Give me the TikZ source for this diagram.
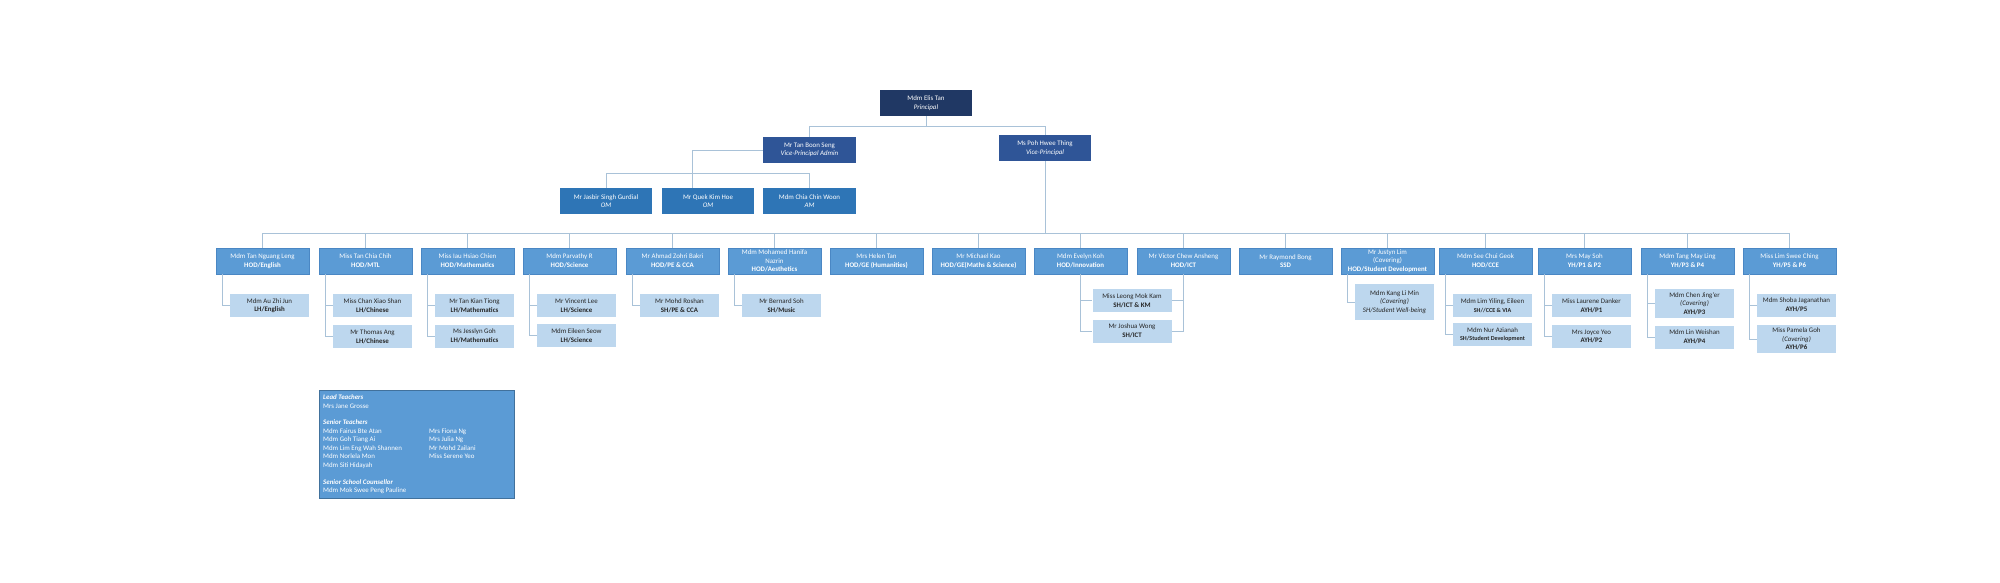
\documentclass[tikz,border=0pt]{standalone}
\usepackage{fontspec}
\setmainfont{Carlito}
\usetikzlibrary{calc}
\definecolor{navy}{HTML}{203864}
\definecolor{vpblue}{HTML}{2F5597}
\definecolor{omblue}{HTML}{2E75B6}
\definecolor{hodblue}{HTML}{5B9BD5}
\definecolor{hodedge}{HTML}{4A87C4}
\definecolor{subblue}{HTML}{BDD7EE}
\definecolor{subtext}{HTML}{262626}
\definecolor{linecol}{HTML}{A9C2D8}
\definecolor{legedge}{HTML}{41719C}
\newcommand\orgfont{\fontsize{6.9}{8.6}\selectfont}
\newcommand\orgsmall{\fontsize{6.1}{8.6}\selectfont}
\begin{document}
\begin{tikzpicture}[x=1pt,y=-1pt,
  box/.style={rectangle, inner sep=0pt, align=center, font=\orgfont, text=white},
  topbox/.style={box, minimum width=92pt, minimum height=26pt},
  hodbox/.style={box, fill=hodblue, draw=hodedge, line width=0.5pt, minimum width=93pt, minimum height=26pt},
  subbox/.style={box, fill=subblue, text=subtext, minimum width=79pt, minimum height=23pt},
  conn/.style={draw=linecol, line width=0.9pt},
  legtext/.style={anchor=base west, inner sep=0pt, font=\orgfont, text=white}]
\path[use as bounding box, fill=white] (0,0) rectangle (2000,583);

% top levels
\node[topbox, fill=navy] (p) at (926,103) {Mdm Elis Tan\\\textit{Principal}};
\node[topbox, fill=vpblue, minimum width=93pt] (vpa) at (809.5,150) {Mr Tan Boon Seng\\\textit{Vice-Principal Admin}};
\node[topbox, fill=vpblue] (vp) at (1045,148) {Ms Poh Hwee Thing\\\textit{Vice-Principal}};
\node[topbox, fill=omblue] (om1) at (606,201) {Mr Jasbir Singh Gurdial\\\textit{OM}};
\node[topbox, fill=omblue] (om2) at (708,201) {Mr Quek Kim Hoe\\\textit{OM}};
\node[topbox, fill=omblue, minimum width=93pt] (om3) at (809.5,201) {Mdm Chia Chin Woon\\\textit{AM}};

\coordinate (pbus) at (0,126);
\coordinate (ombus) at (0,173);
\coordinate (hbus) at (0,233);
\coordinate (qk) at (692,188);

\draw[conn] (p.south) -- (p.south |- pbus);
\draw[conn] (vpa.north) -- (vpa.north |- pbus) -- (vp.north |- pbus) -- (vp.north);
\draw[conn] (vpa.west) -| (qk);
\draw[conn] (om1.north) -- (om1.north |- ombus) -- (om3.north |- ombus) -- (om3.north);

% HODs
\node[hodbox] (h0) at (262.5,261) {Mdm Tan Nguang Leng\\\textbf{HOD/English}};
\node[hodbox] (h1) at (365.5,261) {Miss Tan Chia Chih\\\textbf{HOD/MTL}};
\node[hodbox] (h2) at (467.5,261) {Miss Iau Hsiao Chien\\\textbf{HOD/Mathematics}};
\node[hodbox] (h3) at (569.5,261) {Mdm Parvathy R\\\textbf{HOD/Science}};
\node[hodbox] (h4) at (672.5,261) {Mr Ahmad Zohri Bakri\\\textbf{HOD/PE \& CCA}};
\node[hodbox] (h5) at (774.5,261) {Mdm Mohamed Hanifa\\Nazrin\\\textbf{HOD/Aesthetics}};
\node[hodbox] (h6) at (876.5,261) {Mrs Helen Tan\\\textbf{HOD/GE (Humanities)}};
\node[hodbox] (h7) at (978.5,261) {Mr Michael Kao\\\textbf{HOD/GE(Maths \& Science)}};
\node[hodbox] (h8) at (1080.5,261) {Mdm Evelyn Koh\\\textbf{HOD/Innovation}};
\node[hodbox] (h9) at (1183.5,261) {Mr Victor Chew Ansheng\\\textbf{HOD/ICT}};
\node[hodbox] (h10) at (1285.5,261) {Mr Raymond Bong\\\textbf{SSD}};
\node[hodbox] (h11) at (1387.5,261) {Mr Justyn Lim\\(Covering)\\\textbf{HOD/Student Development}};
\node[hodbox] (h12) at (1485.5,261) {Mdm See Chui Geok\\\textbf{HOD/CCE}};
\node[hodbox] (h13) at (1584.5,261) {Mrs May Soh\\\textbf{YH/P1 \& P2}};
\node[hodbox] (h14) at (1687.5,261) {Mdm Tang May Ling\\\textbf{YH/P3 \& P4}};
\node[hodbox] (h15) at (1789.5,261) {Miss Lim Swee Ching\\\textbf{YH/P5 \& P6}};

\draw[conn] (vp.south) -- (vp.south |- hbus);
\draw[conn] (h0.north) -- (h0.north |- hbus) -- (h15.north |- hbus) -- (h15.north);
\foreach \i in {1,...,14} {\draw[conn] (h\i.north) -- (h\i.north |- hbus);}

% sub boxes
\node[subbox] (s0a) at (269.5,305.5) {Mdm Au Zhi Jun\\\textbf{LH/English}};
\node[subbox] (s1a) at (372.5,305.5) {Miss Chan Xiao Shan\\\textbf{LH/Chinese}};
\node[subbox] (s1b) at (372.5,336.5) {Mr Thomas Ang\\\textbf{LH/Chinese}};
\node[subbox] (s2a) at (474.5,305.5) {Mr Tan Kian Tiong\\\textbf{LH/Mathematics}};
\node[subbox] (s2b) at (474.5,336) {Ms Jesslyn Goh\\\textbf{LH/Mathematics}};
\node[subbox] (s3a) at (576.5,305.5) {Mr Vincent Lee\\\textbf{LH/Science}};
\node[subbox] (s3b) at (576.5,335.5) {Mdm Eileen Seow\\\textbf{LH/Science}};
\node[subbox] (s4a) at (679.5,305.5) {Mr Mohd Roshan\\\textbf{SH/PE \& CCA}};
\node[subbox] (s5a) at (781.5,305.5) {Mr Bernard Soh\\\textbf{SH/Music}};
\node[subbox] (s8a) at (1132,300.5) {Miss Leong Mok Kam\\\textbf{SH/ICT \& KM}};
\node[subbox] (s8b) at (1132,331) {Mr Joshua Wong\\\textbf{SH/ICT}};
\node[subbox, minimum height=36pt] (s11a) at (1394.5,302) {Mdm Kang Li Min\\\textit{(Covering)}\\\textit{SH/Student Well-being}};
\node[subbox] (s12a) at (1492.5,305.5) {Mdm Lim Yiling, Eileen\\{\orgsmall\textbf{SH//CCE \& VIA}}};
\node[subbox] (s12b) at (1492.5,334.5) {Mdm Nur Azianah\\{\orgsmall\textbf{SH/Student Development}}};
\node[subbox] (s13a) at (1591.5,305.5) {Miss Laurene Danker\\\textbf{AYH/P1}};
\node[subbox] (s13b) at (1591.5,336.5) {Mrs Joyce Yeo\\\textbf{AYH/P2}};
\node[subbox, minimum height=29pt] (s14a) at (1694.5,303.5) {Mdm Chen Jing'er\\\textit{(Covering)}\\\textbf{AYH/P3}};
\node[subbox] (s14b) at (1694.5,337) {Mdm Lin Weishan\\\textbf{AYH/P4}};
\node[subbox] (s15a) at (1796.5,305) {Mdm Shoba Jaganathan\\\textbf{AYH/P5}};
\node[subbox, minimum height=28pt] (s15b) at (1796.5,339) {Miss Pamela Goh\\\textit{(Covering)}\\\textbf{AYH/P6}};

% sub connectors
\draw[conn] ($(h0.south west)+(7,0)$) |- (s0a.west);
\draw[conn] ($(h1.south west)+(7,0)$) |- (s1b.west);
\draw[conn] ($(h1.south west)+(7,0)$) |- (s1a.west);
\draw[conn] ($(h2.south west)+(7,0)$) |- (s2b.west);
\draw[conn] ($(h2.south west)+(7,0)$) |- (s2a.west);
\draw[conn] ($(h3.south west)+(7,0)$) |- (s3b.west);
\draw[conn] ($(h3.south west)+(7,0)$) |- (s3a.west);
\draw[conn] ($(h4.south west)+(7,0)$) |- (s4a.west);
\draw[conn] ($(h5.south west)+(7,0)$) |- (s5a.west);
\draw[conn] (h8.south) |- (s8b.west);
\draw[conn] (h8.south) |- (s8a.west);
\draw[conn] (h9.south) |- (s8b.east);
\draw[conn] (h9.south) |- (s8a.east);
\draw[conn] ($(h11.south west)+(7,0)$) |- (s11a.west);
\draw[conn] ($(h12.south west)+(7,0)$) |- (s12b.west);
\draw[conn] ($(h12.south west)+(7,0)$) |- (s12a.west);
\draw[conn] ($(h13.south west)+(7,0)$) |- (s13b.west);
\draw[conn] ($(h13.south west)+(7,0)$) |- (s13a.west);
\draw[conn] ($(h14.south west)+(7,0)$) |- (s14b.west);
\draw[conn] ($(h14.south west)+(7,0)$) |- (s14a.west);
\draw[conn] ($(h15.south west)+(7,0)$) |- (s15b.west);
\draw[conn] ($(h15.south west)+(7,0)$) |- (s15a.west);

% legend
\node[draw=legedge, fill=hodblue, line width=0.7pt, minimum width=195pt, minimum height=108pt, inner sep=0pt] (legend) at (416.5,444) {};
\node[legtext] (l1) at (323,399.5) {\textbf{\textit{Lead Teachers}}};
\node[legtext] (l2) at (323,408) {Mrs Jane Grosse};
\node[legtext] (l3) at (323,424.5) {\textbf{\textit{Senior Teachers}}};
\node[legtext] (l4) at (323,433) {Mdm Fairus Bte Atan};
\node[legtext] (l5) at (323,441.5) {Mdm Goh Tiang Ai};
\node[legtext] (l6) at (323,450) {Mdm Lim Eng Wah Shannen};
\node[legtext] (l7) at (323,458.5) {Mdm Norlela Mon};
\node[legtext] (l8) at (323,467) {Mdm Siti Hidayah};
\node[legtext] (l9) at (323,484) {\textbf{\textit{Senior School Counsellor}}};
\node[legtext] (l10) at (323,492.5) {Mdm Mok Swee Peng Pauline};
\node[legtext] (r1) at (429,433) {Mrs Fiona Ng};
\node[legtext] (r2) at (429,441.5) {Mrs Julia Ng};
\node[legtext] (r3) at (429,450) {Mr Mohd Zailani};
\node[legtext] (r4) at (429,458.5) {Miss Serene Yeo};
\end{tikzpicture}
\end{document}
